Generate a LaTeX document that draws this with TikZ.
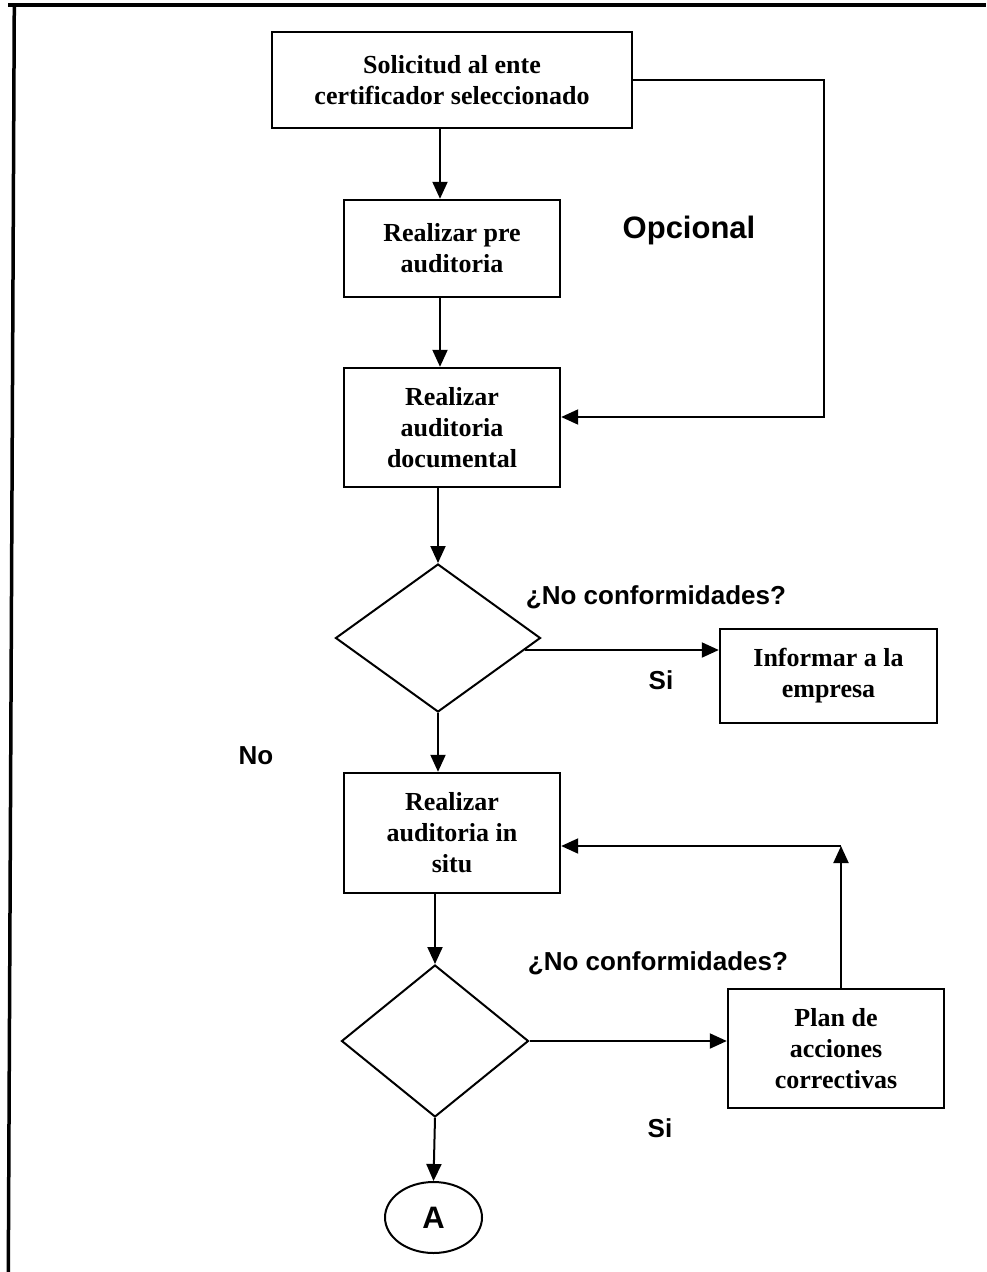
\documentclass[tikz,border=0pt]{standalone}
\usepackage{fontspec}
\setmainfont{Liberation Serif}
\setsansfont{Liberation Sans}
\usetikzlibrary{shapes.geometric,arrows.meta,calc}

\tikzset{
  box/.style={draw, line width=2.4pt, rectangle, align=center, inner sep=0pt,
              font=\fontsize{26}{31}\selectfont\bfseries},
  decision/.style={draw, line width=2pt, diamond, inner sep=0pt},
  conn/.style={draw, line width=2pt, ->, >={Triangle[length=17pt,width=15pt]}},
  lbl/.style={font=\fontsize{26}{31}\sffamily\bfseries\selectfont, inner sep=0pt},
  frame/.style={line width=3.5pt},
}

\begin{document}
\begin{tikzpicture}[x=1pt, y=-1pt]
  \useasboundingbox (0,0) rectangle (986,1272);

  % page frame
  \draw[frame] (8,5) -- (986,5);
  \draw[frame] (14.3,5) -- (8.3,1272);

  % process boxes
  \node[box, minimum width=360pt, minimum height=96pt] (b1) at (452,80)
    {Solicitud al ente\\certificador seleccionado};
  \node[box, minimum width=216pt, minimum height=97pt] (b2) at (452,248.5)
    {Realizar pre\\auditoria};
  \node[box, minimum width=216pt, minimum height=119pt] (b3) at (452,427.5)
    {Realizar\\auditoria\\documental};
  \node[decision, minimum width=205pt, minimum height=148pt] (d1) at (438,638) {};
  \node[box, minimum width=217pt, minimum height=94pt] (inf) at (828.5,676)
    {Informar a la\\empresa};
  \node[box, minimum width=216pt, minimum height=120pt] (b4) at (452,833)
    {Realizar\\auditoria in\\situ};
  \node[decision, minimum width=187pt, minimum height=152pt] (d2) at (435,1041) {};
  \node[box, minimum width=216pt, minimum height=119pt] (plan) at (836,1048.5)
    {Plan de\\acciones\\correctivas};
  \node[draw, line width=2pt, ellipse, minimum width=97pt, minimum height=71pt,
        inner sep=0pt, font=\fontsize{31}{36}\sffamily\bfseries\selectfont] (A) at (433.5,1217.5) {A};

  % labels
  \node[lbl, font=\fontsize{31}{36}\sffamily\bfseries\selectfont] (opc) at (689,230) {Opcional};
  \node[lbl] (q1) at (656,597) {¿No conformidades?};
  \node[lbl] (si1) at (661,680) {Si};
  \node[lbl] (no1) at (256,756) {No};
  \node[lbl] (q2) at (658,963) {¿No conformidades?};
  \node[lbl] (si2) at (660,1128) {Si};

  % helper points of the return paths
  \coordinate (c1) at (824,80);
  \coordinate (c2) at (824,417);
  \coordinate (c3) at (841,846);
  \coordinate (d1o) at ($(d1.east)!0.16!(d1.south)$);

  % main flow
  \draw[conn] ([xshift=-12pt]b1.south) -- ([xshift=-12pt]b2.north);
  \draw[conn] ([xshift=-12pt]b2.south) -- ([xshift=-12pt]b3.north);
  \draw[conn] (b3.south -| d1.north) -- (d1.north);
  \draw[conn] (d1.south) -- (d1.south |- b4.north);
  \draw[conn] (b4.south -| d2.north) -- (d2.north);
  \draw[conn] (d2.south) -- (A.north);

  % optional path from the request to the documentary audit
  \draw[conn] (b1.east) -- (c1) -- (c2) -- (c2 -| b3.east);

  % yes branches
  \draw[conn] (d1o) -- (d1o -| inf.west);
  \draw[conn] (d2.east) -- (d2.east -| plan.west);

  % corrective action loop
  \draw[conn] (c3 |- plan.north) -- (c3);
  \draw[conn] (c3) -- (c3 -| b4.east);
\end{tikzpicture}
\end{document}
